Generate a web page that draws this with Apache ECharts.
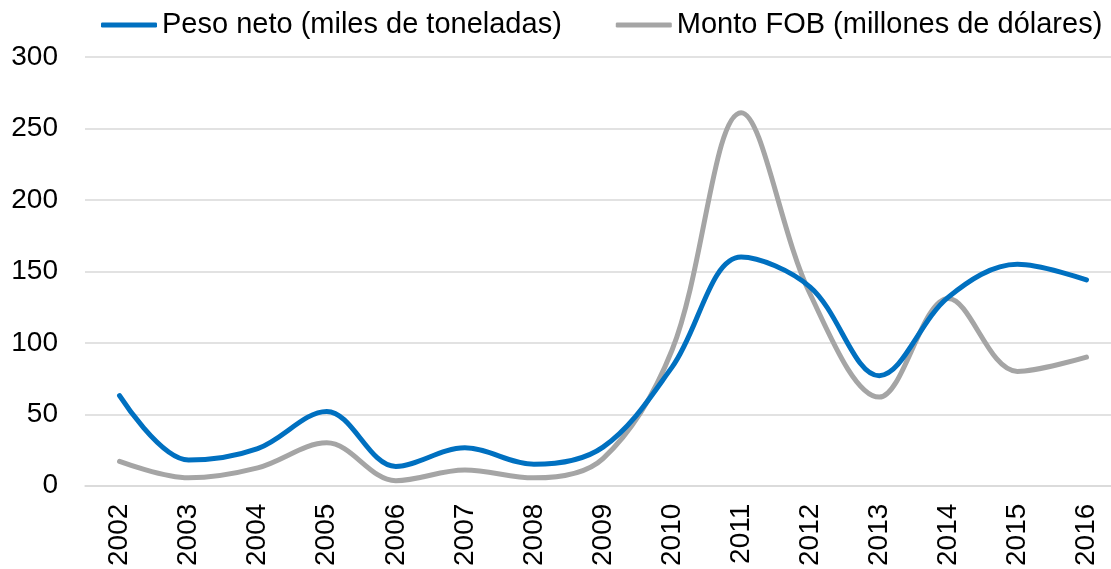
<!DOCTYPE html>
<html>
<head>
<meta charset="utf-8">
<title>Peso neto y Monto FOB</title>
<script src="https://cdn.jsdelivr.net/npm/echarts@6/dist/echarts.min.js"></script>
<style>
    html, body { margin: 0; padding: 0; background: #fff; overflow: hidden; }
    /* el original esta recortado a la derecha: el lienzo es algo mas ancho que la ventana */
    #chart { width: 1122px; height: 569px; }
</style>
</head>
<body>
<div id="chart"></div>
<script>
// datos
const years = ['2002', '2003', '2004', '2005', '2006', '2007', '2008', '2009',
    '2010', '2011', '2012', '2013', '2014', '2015', '2016'];
const pesoNeto = [63, 18, 26, 52, 13.5, 26.5, 15, 27, 83, 160, 139, 77, 132, 155, 144];
const montoFob = [17, 5.5, 12.5, 30, 3.5, 11, 5.5, 19, 95, 261, 134, 62, 131, 80, 90];
const yTicks = [0, 50, 100, 150, 200, 250, 300];

const seriesNames = ['Peso neto (miles de toneladas)', 'Monto FOB (millones de dólares)'];
const fontName = '"Liberation Sans", Arial, sans-serif';

const chart = echarts.init(document.getElementById('chart'));

chart.setOption({
    animation: false,
    backgroundColor: '#fff',
    legend: {
        left: 101,
        top: 10,
        padding: 0,
        itemWidth: 56,
        itemHeight: 5,
        itemGap: 54,
        icon: 'roundRect',
        textStyle: {
            color: '#000',
            fontSize: 29,
            fontFamily: fontName,
            lineHeight: 30,
        },
        data: seriesNames,
    },
    grid: {
        left: 85,
        top: 57,
        width: 1036,
        height: 429,
    },
    xAxis: {
        type: 'category',
        data: years,
        boundaryGap: true,
        axisLine: { lineStyle: { color: '#D9D9D9', width: 1.5 } },
        axisTick: { show: false },
        axisLabel: {
            rotate: 90,
            margin: 18,
            color: '#000',
            fontSize: 28,
            fontFamily: fontName,
        },
    },
    yAxis: {
        type: 'value',
        min: yTicks[0],
        max: yTicks[yTicks.length - 1],
        interval: yTicks[1] - yTicks[0],
        axisLine: { show: false },
        axisTick: { show: false },
        axisLabel: {
            margin: 27,
            color: '#000',
            fontSize: 28,
            fontFamily: fontName,
        },
        splitLine: { lineStyle: { color: '#D9D9D9', width: 1.5 } },
    },
    series: [
        {
            name: seriesNames[0],
            type: 'line',
            data: pesoNeto,
            smooth: 0.35,
            showSymbol: false,
            symbol: 'none',
            z: 3,
            itemStyle: { color: '#0070C0' },
            lineStyle: { color: '#0070C0', width: 5, cap: 'round' },
        },
        {
            name: seriesNames[1],
            type: 'line',
            data: montoFob,
            smooth: 0.35,
            showSymbol: false,
            symbol: 'none',
            z: 2,
            itemStyle: { color: '#A5A5A5' },
            lineStyle: { color: '#A5A5A5', width: 5, cap: 'round' },
        },
    ],
});
</script>
</body>
</html>
